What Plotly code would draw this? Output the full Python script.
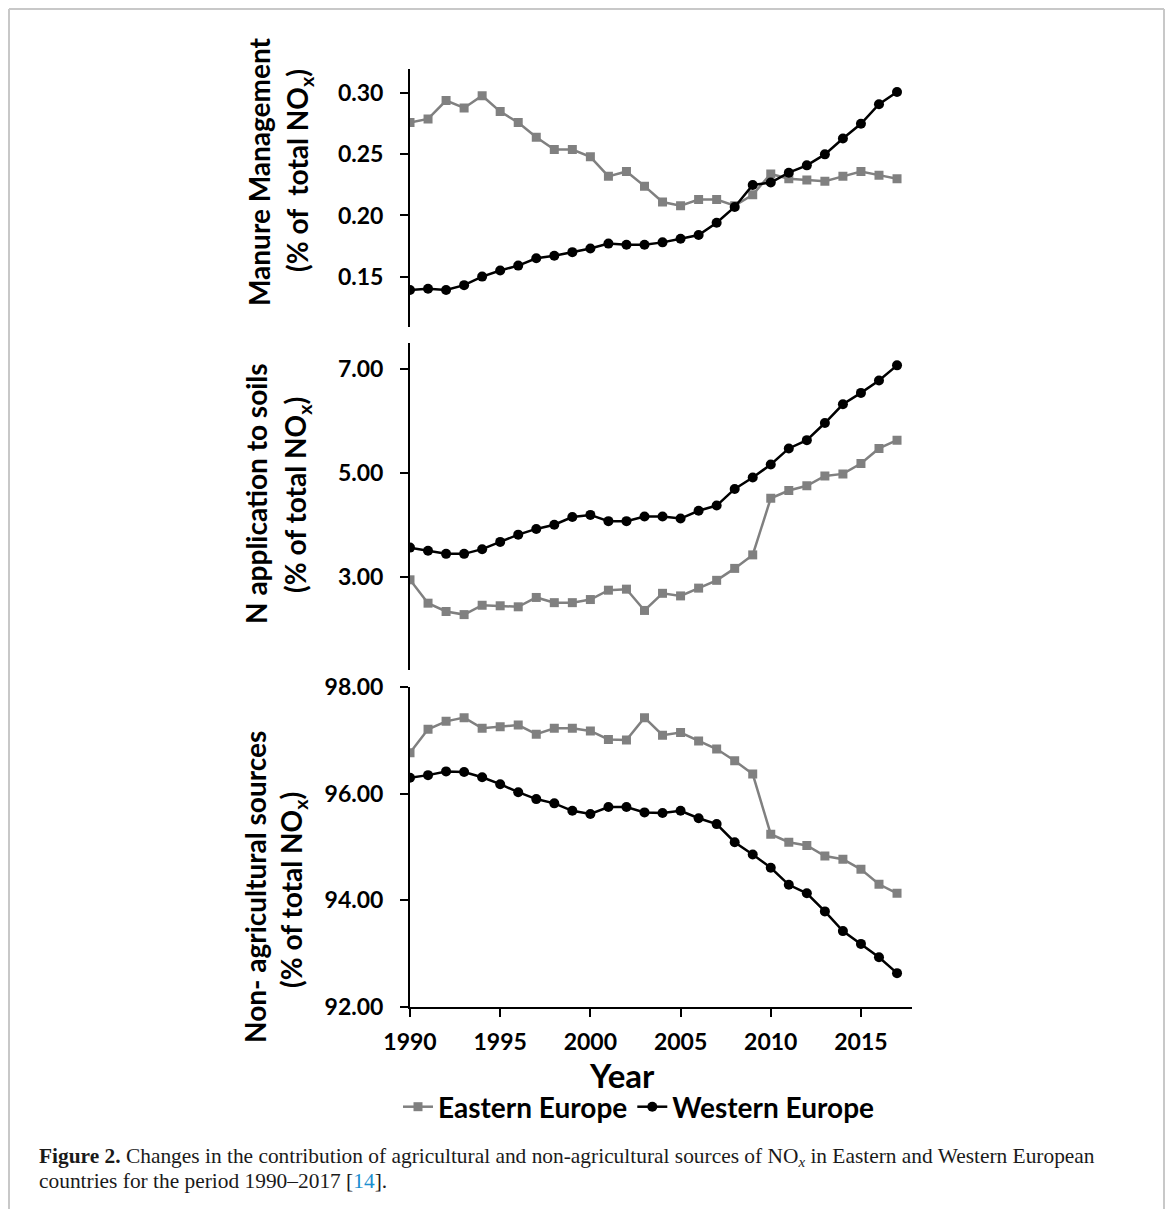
import plotly.graph_objects as go

years = list(range(1990, 2018))

manure_east = [0.276, 0.279, 0.294, 0.288, 0.298, 0.285, 0.276, 0.264, 0.254, 0.254,
               0.248, 0.232, 0.236, 0.224, 0.211, 0.208, 0.213, 0.213, 0.208, 0.217,
               0.234, 0.230, 0.229, 0.228, 0.232, 0.236, 0.233, 0.230]
manure_west = [0.139, 0.140, 0.139, 0.143, 0.150, 0.155, 0.159, 0.165, 0.167, 0.170,
               0.173, 0.177, 0.176, 0.176, 0.178, 0.181, 0.184, 0.194, 0.207, 0.225,
               0.227, 0.235, 0.241, 0.250, 0.263, 0.275, 0.291, 0.301]

soil_east = [2.94, 2.49, 2.33, 2.27, 2.45, 2.44, 2.42, 2.60, 2.50, 2.50,
             2.56, 2.74, 2.76, 2.35, 2.68, 2.63, 2.78, 2.93, 3.16, 3.42,
             4.51, 4.66, 4.75, 4.94, 4.98, 5.18, 5.47, 5.63]
soil_west = [3.56, 3.50, 3.44, 3.44, 3.53, 3.67, 3.81, 3.92, 4.00, 4.15,
             4.19, 4.07, 4.07, 4.16, 4.16, 4.12, 4.27, 4.37, 4.69, 4.91,
             5.16, 5.47, 5.63, 5.96, 6.32, 6.54, 6.78, 7.07]

nonag_east = [96.77, 97.21, 97.36, 97.43, 97.23, 97.26, 97.29, 97.12, 97.23, 97.23,
              97.18, 97.02, 97.01, 97.43, 97.10, 97.15, 96.99, 96.84, 96.62, 96.37,
              95.24, 95.09, 95.03, 94.83, 94.77, 94.58, 94.30, 94.13]
nonag_west = [96.30, 96.35, 96.42, 96.41, 96.31, 96.18, 96.03, 95.90, 95.82, 95.68,
              95.62, 95.75, 95.75, 95.65, 95.64, 95.68, 95.54, 95.43, 95.09, 94.86,
              94.61, 94.29, 94.13, 93.79, 93.42, 93.18, 92.93, 92.63]

x_ticks = [1990, 1995, 2000, 2005, 2010, 2015]
manure_ticks = [0.15, 0.20, 0.25, 0.30]
soil_ticks = [3.0, 5.0, 7.0]
nonag_ticks = [92.0, 94.0, 96.0, 98.0]

W, H = 1166, 1209
FONT = "Lato"
GREY = "#808080"


def px(x):
    return x / W


def py(y):
    return 1 - y / H


fig = go.Figure()

panels = [
    (manure_east, manure_west, "x", "y"),
    (soil_east, soil_west, "x2", "y2"),
    (nonag_east, nonag_west, "x3", "y3"),
]
for i, (east, west, xa, ya) in enumerate(panels):
    fig.add_trace(go.Scatter(
        x=years, y=east, xaxis=xa, yaxis=ya, mode="lines+markers",
        name="Eastern Europe", legendgroup="e", showlegend=(i == 0),
        line=dict(color=GREY, width=2.5),
        marker=dict(symbol="square", size=9, color=GREY),
    ))
    fig.add_trace(go.Scatter(
        x=years, y=west, xaxis=xa, yaxis=ya, mode="lines+markers",
        name="Western Europe", legendgroup="w", showlegend=(i == 0),
        line=dict(color="black", width=2.5),
        marker=dict(symbol="circle", size=10, color="black"),
    ))

xdom = [px(410), px(912)]
xrange = [1990, 2017.83]
tickfont = dict(family=FONT, size=23, color="black", weight="bold")

common_y = dict(showline=True, linecolor="black", linewidth=2, ticks="outside",
                ticklen=8, tickwidth=2, tickcolor="black", showgrid=False,
                zeroline=False, tickfont=tickfont, tickformat=".2f",
                ticklabelstandoff=12, automargin=False)

fig.update_layout(
    template="none",
    width=W, height=H,
    autosize=False,
    margin=dict(l=0, r=0, t=0, b=0, pad=0),
    paper_bgcolor="white", plot_bgcolor="white",
    showlegend=True,
    xaxis=dict(domain=xdom, range=xrange, anchor="y", visible=False,
               automargin=False),
    xaxis2=dict(domain=xdom, range=xrange, anchor="y2", visible=False,
                automargin=False),
    xaxis3=dict(domain=xdom, range=xrange, anchor="y3", showline=True,
                linecolor="black", linewidth=2, ticks="outside", ticklen=8,
                tickwidth=2, tickcolor="black", tickvals=x_ticks,
                showgrid=False, zeroline=False, tickfont=tickfont,
                ticklabelstandoff=6, automargin=False),
    yaxis=dict(domain=[py(326.7), py(69.3)], range=[0.109, 0.3196],
               tickvals=manure_ticks, anchor="x", **common_y),
    yaxis2=dict(domain=[py(670), py(343.3)], range=[1.203, 7.495],
                tickvals=soil_ticks, anchor="x2", **common_y),
    yaxis3=dict(domain=[py(1006.7), py(687.3)], range=[92, 98],
                tickvals=nonag_ticks, anchor="x3", **common_y),
    legend=dict(orientation="h", x=px(398), xanchor="left", y=py(1107),
                yanchor="middle", font=dict(family=FONT, size=28, color="black",
                                            weight="bold"),
                itemwidth=30, tracegroupgap=0, bgcolor="rgba(0,0,0,0)",
                borderwidth=0),
)

title_font = dict(family=FONT, size=28, color="black", weight="bold")
titles = [
    ("Manure Management", 259, 172),
    ("(% of\u00a0 total NO<sub>x</sub>)", 299, 170),
    ("N application to soils", 256, 494),
    ("(% of total NO<sub>x</sub>)", 297, 495),
    ("Non- agricultural sources", 255, 887),
    ("(% of total NO<sub>x</sub>)", 293, 890),
]
for text, x, y in titles:
    fig.add_annotation(text=text, x=px(x), y=py(y), xref="paper", yref="paper",
                       textangle=-90, showarrow=False, font=title_font,
                       xanchor="center", yanchor="middle")

fig.add_annotation(text="Year", x=px(622), y=py(1075), xref="paper", yref="paper",
                   showarrow=False, font=dict(family=FONT, size=33, color="black",
                                              weight="bold"),
                   xanchor="center", yanchor="middle")

cap_font = dict(family="Liberation Serif", size=21.4, color="#1a1a1a")
fig.add_annotation(
    text="<b>Figure 2.</b> Changes in the contribution of agricultural and "
         "non-agricultural sources of NO<sub><i>x</i></sub> in Eastern and "
         "Western European",
    x=px(37), y=py(1157), xref="paper", yref="paper", showarrow=False,
    font=cap_font, xanchor="left", yanchor="middle")
fig.add_annotation(
    text="countries for the period 1990\u20132017 [<span style='color:#1a8fd0'>14</span>].",
    x=px(37), y=py(1181), xref="paper", yref="paper", showarrow=False,
    font=cap_font, xanchor="left", yanchor="middle")

frame = dict(color="#c8c8c8", width=2)
fig.add_shape(type="line", xref="paper", yref="paper", x0=px(9), x1=px(9),
              y0=0, y1=py(9), line=frame)
fig.add_shape(type="line", xref="paper", yref="paper", x0=px(9), x1=px(1164),
              y0=py(9), y1=py(9), line=frame)
fig.add_shape(type="line", xref="paper", yref="paper", x0=px(1164), x1=px(1164),
              y0=0, y1=py(9), line=frame)

fig.write_html(
    "out.html",
    config={"displayModeBar": False},
    post_script="document.body.style.margin='0';"
                "document.body.style.padding='0';"
                "document.documentElement.style.overflow='hidden';",
)
